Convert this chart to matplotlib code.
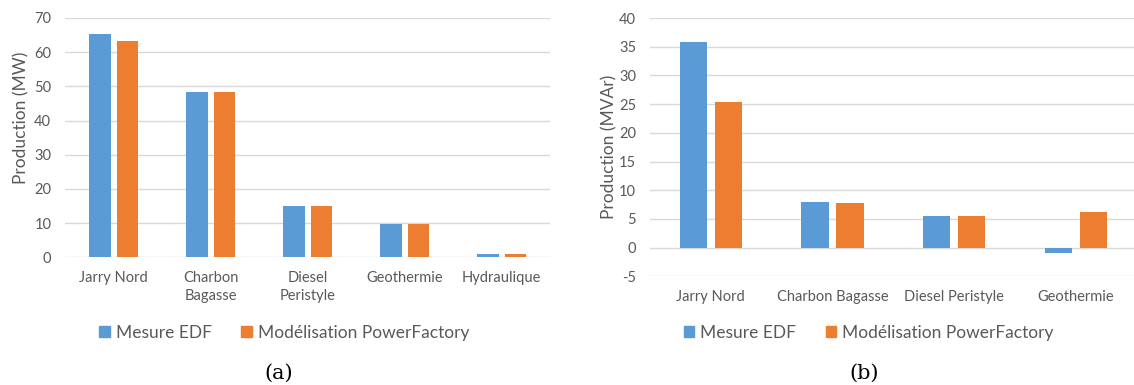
import matplotlib
matplotlib.use("Agg")
import matplotlib.pyplot as plt
import numpy as np
from matplotlib.patches import Patch

plt.rcParams['font.family'] = ['Lato', 'DejaVu Sans']
plt.rcParams['axes.unicode_minus'] = False

BLUE = "#5B9BD5"
ORANGE = "#ED7D31"
GREY_TEXT = "#595959"
GRID = "#D9D9D9"

SERIES = ["Mesure EDF", "Modélisation PowerFactory"]

# (a) active power
CAT_A = ["Jarry Nord", "Charbon\nBagasse", "Diesel\nPeristyle", "Geothermie", "Hydraulique"]
EDF_A = [65.4, 48.3, 14.9, 9.8, 1.0]
PF_A = [63.2, 48.3, 14.9, 9.8, 1.0]

# (b) reactive power
CAT_B = ["Jarry Nord", "Charbon Bagasse", "Diesel Peristyle", "Geothermie"]
EDF_B = [35.9, 8.0, 5.5, -1.0]
PF_B = [25.3, 7.7, 5.5, 6.3]

W = 1134
H = 385
fig = plt.figure(figsize=(W / 100, H / 100), dpi=100)


def bar_chart(rect, cats, edf, pf, ylim, yticks, ylabel, label_xy):
    ax = fig.add_axes(rect)
    x = np.arange(len(cats))
    width = 0.224
    off = 0.143
    ax.bar(x - off, edf, width, color=BLUE, zorder=3)
    ax.bar(x + off, pf, width, color=ORANGE, zorder=3)
    ax.set_xlim(-0.5, len(cats) - 0.5)
    ax.set_ylim(*ylim)
    ax.set_yticks(yticks)
    ax.set_xticks(x)
    ax.set_xticklabels(cats, linespacing=1.35)
    for s in ax.spines.values():
        s.set_visible(False)
    ax.tick_params(axis="both", length=0, labelsize=10.5, colors=GREY_TEXT)
    ax.tick_params(axis="y", pad=10)
    ax.tick_params(axis="x", pad=10)
    ax.yaxis.grid(True, color=GRID, linewidth=1.0, zorder=0)
    ax.set_axisbelow(True)
    ax.set_ylabel(ylabel, fontsize=12.5, color=GREY_TEXT)
    ax.yaxis.set_label_coords(*label_xy)
    return ax


ax1 = bar_chart([65.2 / W, 1 - 257.3 / H, 485 / W, 239.3 / H],
                CAT_A, EDF_A, PF_A, (0, 70), range(0, 71, 10),
                "Production (MW)", (-0.074, 0.584))
ax2 = bar_chart([650 / W, 1 - 276.4 / H, 486.7 / W, 258.4 / H],
                CAT_B, EDF_B, PF_B, (-5, 40), range(-5, 41, 5),
                "Production (MVAr)", (-0.066, 0.5))

handles = [Patch(color=BLUE, label=SERIES[0]), Patch(color=ORANGE, label=SERIES[1])]
for lx in [99.3, 684]:
    fig.legend(handles=handles, loc="center left", bbox_to_anchor=(lx / W, 1 - 332.7 / H),
               ncol=2, frameon=False, fontsize=12.5, labelcolor=GREY_TEXT,
               handlelength=0.6, handleheight=0.6, handletextpad=0.35,
               columnspacing=1.7, borderpad=0, borderaxespad=0)

fig.text(279 / W, 1 - 373 / H, "(a)", ha="center", va="center", fontsize=15,
         family="DejaVu Serif", color="black")
fig.text(864 / W, 1 - 373 / H, "(b)", ha="center", va="center", fontsize=15,
         family="DejaVu Serif", color="black")

fig.savefig("out.png", dpi=100)
